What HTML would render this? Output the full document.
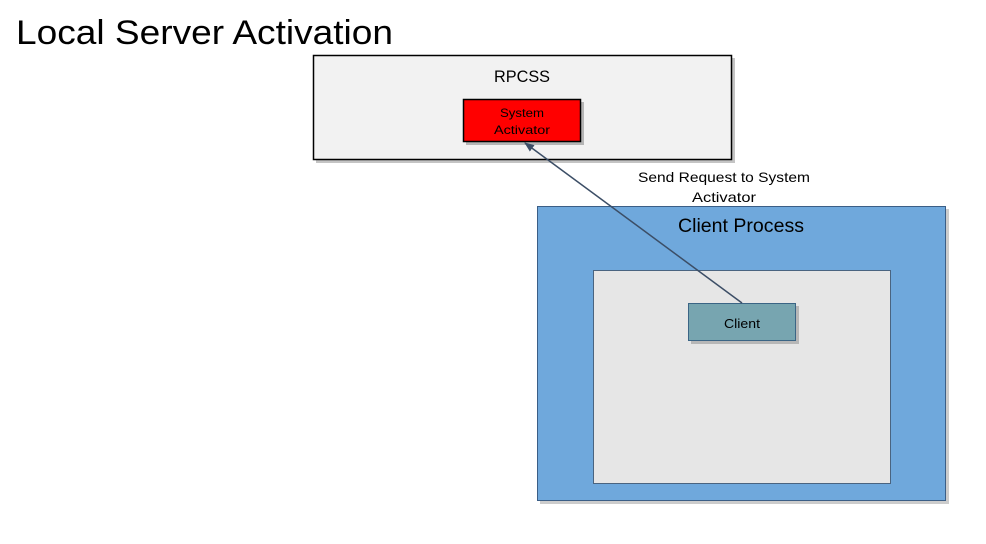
<!DOCTYPE html>
<html><head><meta charset="utf-8"><style>
html,body{margin:0;padding:0;background:#fff;}
svg{display:block;font-family:"Liberation Sans",sans-serif;}
</style></head><body>
<svg width="986" height="544" viewBox="0 0 986 544" xmlns="http://www.w3.org/2000/svg">
<defs>
<marker id="ah" markerWidth="10" markerHeight="8" refX="9" refY="4" orient="auto" markerUnits="userSpaceOnUse">
<path d="M0,0 L10,4 L0,8 z" fill="#3c4e66"/>
</marker>
</defs>
<text x="16" y="44" font-size="34" fill="#000" textLength="377" lengthAdjust="spacingAndGlyphs">Local Server Activation</text>
<!-- RPCSS -->
<rect x="316" y="58" width="419" height="105" fill="#8a8a8a" opacity="0.5"/>
<rect x="313.5" y="55.5" width="418" height="104" fill="#f2f2f2" stroke="#000" stroke-width="1.5"/>
<text x="522" y="82" font-size="17" text-anchor="middle" textLength="56" lengthAdjust="spacingAndGlyphs">RPCSS</text>
<rect x="466" y="102" width="118" height="43" fill="#777" opacity="0.5"/>
<rect x="463.5" y="99.5" width="117" height="42" fill="#ff0000" stroke="#000" stroke-width="1.5"/>
<text x="522" y="117" font-size="12" text-anchor="middle" textLength="44" lengthAdjust="spacingAndGlyphs">System</text>
<text x="522" y="134" font-size="12" text-anchor="middle" textLength="56" lengthAdjust="spacingAndGlyphs">Activator</text>
<!-- label -->
<text x="724" y="182" font-size="14" text-anchor="middle" textLength="172" lengthAdjust="spacingAndGlyphs">Send Request to System</text>
<text x="724" y="202" font-size="14" text-anchor="middle" textLength="64" lengthAdjust="spacingAndGlyphs">Activator</text>
<!-- Client process -->
<rect x="540" y="209" width="409" height="295" fill="#999" opacity="0.5"/>
<rect x="537.5" y="206.5" width="408" height="294" fill="#6fa8dc" stroke="#3b5e86" stroke-width="1"/>
<text x="741" y="232" font-size="19" text-anchor="middle" textLength="126" lengthAdjust="spacingAndGlyphs">Client Process</text>
<rect x="593.5" y="270.5" width="297" height="213" fill="#e6e6e6" stroke="#4a6480" stroke-width="1"/>
<rect x="691" y="306" width="108" height="38" fill="#888" opacity="0.5"/>
<rect x="688.5" y="303.5" width="107" height="37" fill="#77a5b0" stroke="#3b6585" stroke-width="1"/>
<text x="742" y="328" font-size="13" text-anchor="middle" textLength="36" lengthAdjust="spacingAndGlyphs">Client</text>
<!-- arrow -->
<line x1="742" y1="303" x2="525" y2="143" stroke="#3c4e66" stroke-width="1.5" marker-end="url(#ah)"/>
</svg>
</body></html>
